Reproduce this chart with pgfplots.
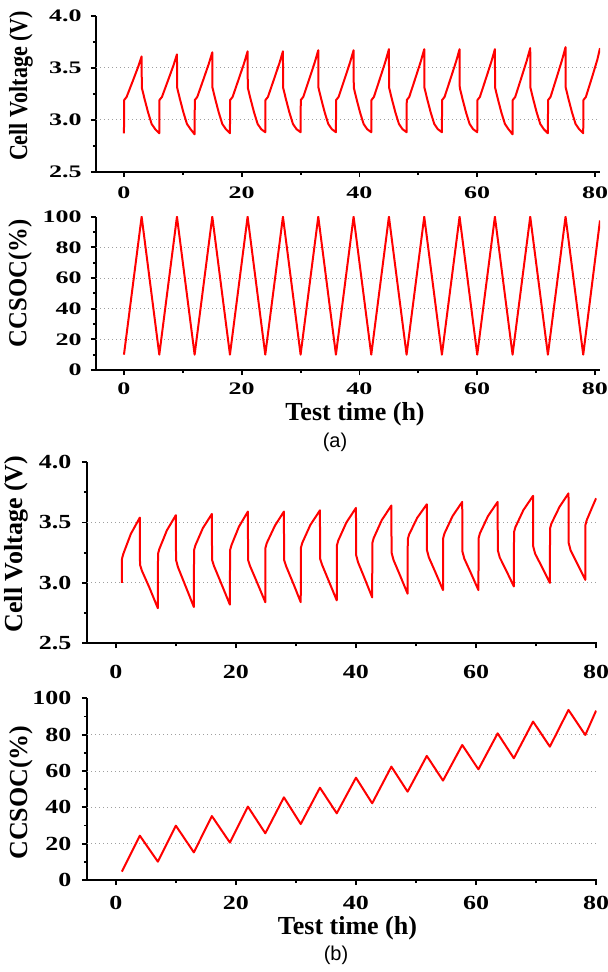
\documentclass[border=0pt]{standalone}
\usepackage{fontspec}
\setmainfont{Liberation Serif}
\newfontfamily\capfont{Liberation Sans}
\usepackage{graphicx}
\usepackage{pgfplots}
\pgfplotsset{compat=1.18}

% tick numbers are wide in the reference; panel (a) is squashed vertically
\newcommand{\ta}[1]{\scalebox{1.3}[0.88]{#1}}
\newcommand{\tb}[1]{\scalebox{1.3}[1]{#1}}

\pgfplotsset{
  cellax/.style={
    scale only axis,
    axis x line=bottom, axis y line=left,
    x axis line style={-}, y axis line style={-},
    axis line style={line width=1pt},
    tick align=outside,
    major tick length=2.6pt, minor tick length=1.6pt,
    every tick/.style={black, line width=0.9pt},
    tick label style={font=\fontsize{10}{11}\selectfont\bfseries, inner sep=0pt},
    xtick={0,20,40,60,80}, minor xtick={10,30,50,70},
    extra y tick style={grid=major, major tick length=0pt},
    major grid style={line width=0.45pt, gray!75, dash pattern=on 0.6pt off 1.4pt},
    every axis y label/.style={rotate=90, anchor=center, font=\fontsize{13}{15}\selectfont\bfseries},
    every axis x label/.style={anchor=center, font=\fontsize{13}{15}\selectfont\bfseries},
  },
  cellline/.style={red, line width=1pt, line join=round, mark=none},
}

\begin{document}
\begin{tikzpicture}
\useasboundingbox (0,0) rectangle (303.5pt,486pt);

% ---------- (a) cell voltage ----------
\begin{axis}[cellax,
  at={(48pt,400.15pt)}, anchor=south west,
  width=252pt, height=77.85pt,
  xmin=-4.75, xmax=80.85, ymin=2.5, ymax=4.0,
  ytick={2.5,3.0,3.5,4.0}, minor ytick={2.75,3.25,3.75},
  yticklabels={\ta{2.5},\ta{3.0},\ta{3.5},\ta{4.0}},
  xticklabels={\ta{0},\ta{20},\ta{40},\ta{60},\ta{80}},
  extra y ticks={3.0,3.5}, extra y tick labels={},
  xticklabel style={anchor=north, yshift=-5pt},
  yticklabel style={anchor=east, xshift=-4.4pt},
  ylabel={\scalebox{0.85}[1]{Cell Voltage (V)}},
  ylabel style={at={(axis description cs:-0.1488,0.551)}},
]
\addplot[cellline] coordinates {
(0,2.87) (0.03,3.19) (0.45,3.22) (1.5,3.374) (2.4,3.508) (3,3.61) (3.03,3.31) (3.5,3.20) (4.1,3.07) (4.7,2.96) (5.3,2.91) (6,2.87)
(6.03,3.19) (6.45,3.22) (7.5,3.382) (8.4,3.523) (9,3.63) (9.03,3.31) (9.5,3.20) (10.1,3.07) (10.7,2.96) (11.3,2.91) (12,2.86)
(12.03,3.19) (12.45,3.22) (13.5,3.39) (14.4,3.538) (15,3.65) (15.03,3.31) (15.5,3.20) (16.1,3.07) (16.7,2.96) (17.3,2.91) (18,2.87)
(18.03,3.19) (18.45,3.22) (19.5,3.394) (20.4,3.545) (21,3.66) (21.03,3.31) (21.5,3.20) (22.1,3.07) (22.7,2.96) (23.3,2.91) (24,2.88)
(24.03,3.19) (24.45,3.22) (25.5,3.394) (26.4,3.545) (27,3.66) (27.03,3.31) (27.5,3.20) (28.1,3.07) (28.7,2.96) (29.3,2.91) (30,2.88)
(30.03,3.19) (30.45,3.22) (31.5,3.398) (32.4,3.553) (33,3.67) (33.03,3.31) (33.5,3.20) (34.1,3.07) (34.7,2.96) (35.3,2.91) (36,2.88)
(36.03,3.19) (36.45,3.22) (37.5,3.398) (38.4,3.553) (39,3.67) (39.03,3.31) (39.5,3.20) (40.1,3.07) (40.7,2.96) (41.3,2.91) (42,2.88)
(42.03,3.19) (42.45,3.22) (43.5,3.402) (44.4,3.56) (45,3.68) (45.03,3.31) (45.5,3.20) (46.1,3.07) (46.7,2.96) (47.3,2.91) (48,2.88)
(48.03,3.19) (48.45,3.22) (49.5,3.402) (50.4,3.56) (51,3.68) (51.03,3.31) (51.5,3.20) (52.1,3.07) (52.7,2.96) (53.3,2.91) (54,2.88)
(54.03,3.19) (54.45,3.22) (55.5,3.402) (56.4,3.56) (57,3.68) (57.03,3.31) (57.5,3.20) (58.1,3.07) (58.7,2.96) (59.3,2.91) (60,2.88)
(60.03,3.19) (60.45,3.22) (61.5,3.402) (62.4,3.56) (63,3.68) (63.03,3.31) (63.5,3.20) (64.1,3.07) (64.7,2.96) (65.3,2.91) (66,2.86)
(66.03,3.19) (66.45,3.22) (67.5,3.406) (68.4,3.568) (69,3.69) (69.03,3.31) (69.5,3.20) (70.1,3.07) (70.7,2.96) (71.3,2.91) (72,2.87)
(72.03,3.19) (72.45,3.22) (73.5,3.41) (74.4,3.575) (75,3.70) (75.03,3.31) (75.5,3.20) (76.1,3.07) (76.7,2.96) (77.3,2.91) (78,2.87)
(78.03,3.19) (78.45,3.22) (79.5,3.41) (80.4,3.58) (80.85,3.69)
};
\end{axis}

% ---------- (a) CCSOC ----------
\begin{axis}[cellax,
  at={(48pt,301pt)}, anchor=south west,
  width=252pt, height=76.65pt,
  xmin=-4.75, xmax=80.85, ymin=0, ymax=100,
  ytick={0,20,40,60,80,100}, minor ytick={10,30,50,70,90},
  yticklabels={\ta{0},\ta{20},\ta{40},\ta{60},\ta{80},\ta{100}},
  xticklabels={\ta{0},\ta{20},\ta{40},\ta{60},\ta{80}},
  extra y ticks={20,40,60,80}, extra y tick labels={},
  xticklabel style={anchor=north, yshift=-3.5pt},
  yticklabel style={anchor=east, xshift=-4.4pt},
  ylabel={\scalebox{0.95}[1]{CCSOC(\%)}},
  ylabel style={at={(axis description cs:-0.1508,0.565)}},
  xlabel={Test time (h)},
  xlabel style={at={(axis description cs:0.514,-0.287)}},
]
\addplot[cellline] coordinates {
(0,10) (3,100) (6,10) (9,100) (12,10) (15,100) (18,10) (21,100) (24,10) (27,100)
(30,10) (33,100) (36,10) (39,100) (42,10) (45,100) (48,10) (51,100) (54,10) (57,100)
(60,10) (63,100) (66,10) (69,100) (72,10) (75,100) (78,10) (80.85,97.5)
};
\end{axis}

% ---------- (b) cell voltage ----------
\begin{axis}[cellax,
  at={(43.5pt,164.35pt)}, anchor=south west,
  width=254.85pt, height=90.65pt,
  xmin=-4.8, xmax=80.1, ymin=2.5, ymax=4.0,
  ytick={2.5,3.0,3.5,4.0}, minor ytick={2.75,3.25,3.75},
  yticklabels={\tb{2.5},\tb{3.0},\tb{3.5},\tb{4.0}},
  xticklabels={\tb{0},\tb{20},\tb{40},\tb{60},\tb{80}},
  extra y ticks={3.0,3.5}, extra y tick labels={},
  xticklabel style={anchor=north, yshift=-8pt},
  yticklabel style={anchor=east, xshift=-5pt},
  ylabel={Cell Voltage (V)},
  ylabel style={at={(axis description cs:-0.1393,0.547)}},
]
\addplot[cellline] coordinates {
(1.0,3.00) (1.03,3.20) (1.25,3.24) (2.5,3.405) (4.0,3.54) (4.03,3.15) (4.35,3.10) (5.6,2.96) (7.0,2.79)
(7.03,3.24) (7.25,3.28) (8.5,3.434) (10.0,3.56) (10.03,3.19) (10.35,3.13) (11.6,2.975) (13.0,2.80)
(13.03,3.27) (13.25,3.31) (14.5,3.453) (16.0,3.57) (16.03,3.19) (16.35,3.14) (17.6,2.99) (19.0,2.82)
(19.03,3.27) (19.25,3.31) (20.5,3.464) (22.0,3.59) (22.03,3.19) (22.35,3.14) (23.6,2.995) (24.9,2.84)
(24.93,3.29) (25.15,3.33) (26.5,3.473) (28.0,3.59) (28.03,3.19) (28.35,3.14) (29.6,2.99) (30.8,2.84)
(30.83,3.29) (31.05,3.33) (32.4,3.479) (34.0,3.60) (34.03,3.20) (34.35,3.15) (35.6,3.00) (36.8,2.855)
(36.83,3.31) (37.05,3.35) (38.4,3.499) (40.0,3.62) (40.03,3.23) (40.35,3.17) (41.5,3.03) (42.7,2.88)
(42.73,3.33) (42.95,3.37) (44.3,3.519) (45.9,3.64) (45.93,3.25) (46.25,3.19) (47.4,3.055) (48.6,2.91)
(48.63,3.36) (48.85,3.40) (50.2,3.538) (51.8,3.65) (51.83,3.27) (52.15,3.21) (53.3,3.08) (54.5,2.94)
(54.53,3.37) (54.75,3.41) (56.1,3.553) (57.7,3.67) (57.73,3.26) (58.05,3.20) (59.2,3.075) (60.4,2.94)
(60.43,3.37) (60.65,3.41) (62.0,3.553) (63.6,3.67) (63.63,3.27) (63.95,3.21) (65.1,3.095) (66.3,2.97)
(66.33,3.42) (66.55,3.46) (67.9,3.603) (69.5,3.72) (69.53,3.30) (69.85,3.24) (71.1,3.12) (72.3,3.00)
(72.33,3.45) (72.55,3.49) (73.9,3.628) (75.4,3.74) (75.43,3.33) (75.75,3.27) (77.0,3.145) (78.2,3.025)
(78.23,3.48) (78.45,3.52) (79.3,3.62) (80.0,3.70)
};
\end{axis}

% ---------- (b) CCSOC ----------
\begin{axis}[cellax,
  at={(43.5pt,46pt)}, anchor=south west,
  width=254.85pt, height=90.85pt,
  xmin=-4.8, xmax=80.1, ymin=0, ymax=100,
  ytick={0,20,40,60,80,100}, minor ytick={10,30,50,70,90},
  yticklabels={\tb{0},\tb{20},\tb{40},\tb{60},\tb{80},\tb{100}},
  xticklabels={\tb{0},\tb{20},\tb{40},\tb{60},\tb{80}},
  extra y ticks={20,40,60,80}, extra y tick labels={},
  xticklabel style={anchor=north, yshift=-5.5pt},
  yticklabel style={anchor=east, xshift=-5pt},
  ylabel={CCSOC(\%)},
  ylabel style={at={(axis description cs:-0.1295,0.481)}},
  xlabel={Test time (h)},
  xlabel style={at={(axis description cs:0.511,-0.264)}},
]
\addplot[cellline] coordinates {
(1.0,4.6) (4.0,24.4) (7.0,10.1) (10.0,29.9) (13.0,15.2) (16.0,35.2) (19.0,20.6)
(22.0,40.4) (24.9,25.7) (28.0,45.5) (30.8,30.8) (34.0,50.8) (36.8,36.7) (40.0,56.3)
(42.7,42.2) (45.9,62.4) (48.6,48.6) (51.8,68.3) (54.5,54.7) (57.7,74.3) (60.4,60.9)
(63.6,80.7) (66.3,67.0) (69.5,87.2) (72.3,73.4) (75.4,93.6) (78.2,79.8) (80.0,93.2)
};
\end{axis}

\node[font=\capfont\fontsize{10}{12}\selectfont] at (167.5pt,264.75pt) {(a)};
\node[font=\capfont\fontsize{10}{12}\selectfont] at (168pt,8.5pt) {(b)};
\end{tikzpicture}
\end{document}
